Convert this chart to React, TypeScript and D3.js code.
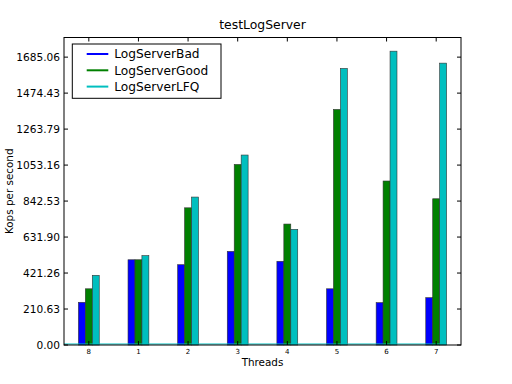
import React from "react";
import { scaleLinear } from "d3";

const threads = ["8", "1", "2", "3", "4", "5", "6", "7"];
const logServerBad = [250, 499, 470, 548, 490, 329, 248, 277];
const logServerGood = [329, 499, 803, 1057, 708, 1379, 960, 856];
const logServerLFQ = [408, 523, 866, 1112, 677, 1619, 1720, 1650];
const yTickLabels = ["0.00", "210.63", "421.26", "631.90", "842.53", "1053.16", "1263.79", "1474.43", "1685.06"];

const seriesNames = ["LogServerBad", "LogServerGood", "LogServerLFQ"];
const seriesColors = ["#0000ff", "#008000", "#00bfbf"];

export default function App() {
    const width = 512;
    const height = 384;
    const left = 64;
    const right = 461;
    const top = 37.5;
    const bottom = 345;
    const font = "DejaVu Sans, sans-serif";

    const series = [logServerBad, logServerGood, logServerLFQ];
    const xScale = scaleLinear().domain([-0.5, threads.length - 0.5]).range([left, right]);
    const yScale = scaleLinear().domain([0, 1800]).range([bottom, top]);
    const barW = 0.14;
    const tickStep = 210.63;

    return (
        <svg width={width} height={height} style={{ position: "absolute", left: 0, top: 0, background: "#fff" }}>
            <rect x={0} y={0} width={width} height={height} fill="#fff" />
            {/* bars */}
            {series.map((vals, s) =>
                vals.map((v, i) => {
                    const x0 = xScale(i - 1.5 * barW + s * barW);
                    const x1 = xScale(i - 1.5 * barW + (s + 1) * barW);
                    return (
                        <rect
                            key={`${s}-${i}`}
                            x={x0}
                            y={yScale(v)}
                            width={x1 - x0}
                            height={yScale(0) - yScale(v)}
                            fill={seriesColors[s]}
                            stroke="#333"
                            strokeWidth={0.6}
                        />
                    );
                })
            )}
            {/* baseline line */}
            <line
                x1={left}
                x2={xScale(threads.length - 1 + 1.5 * barW)}
                y1={yScale(0) - 1}
                y2={yScale(0) - 1}
                stroke="#00bfbf"
                strokeWidth={1.2}
            />
            {/* frame */}
            <rect x={left} y={top} width={right - left} height={bottom - top} fill="none" stroke="#000" strokeWidth={1} />
            {/* y ticks */}
            {yTickLabels.map((t, i) => {
                const y = yScale(i * tickStep);
                return (
                    <g key={t}>
                        <line x1={left} x2={left + 4} y1={y} y2={y} stroke="#000" />
                        <line x1={right} x2={right - 4} y1={y} y2={y} stroke="#000" />
                        <text x={left - 4} y={y + 3.8} fontSize={10.6} fontFamily={font} textAnchor="end">
                            {t}
                        </text>
                    </g>
                );
            })}
            {/* x ticks */}
            {threads.map((t, i) => {
                const x = xScale(i);
                return (
                    <g key={t}>
                        <line x1={x} x2={x} y1={bottom} y2={bottom - 4} stroke="#000" />
                        <line x1={x} x2={x} y1={top} y2={top + 4} stroke="#000" />
                        <text x={x} y={bottom + 9} fontSize={7} fontFamily={font} textAnchor="middle">
                            {t}
                        </text>
                    </g>
                );
            })}
            {/* labels */}
            <text x={(left + right) / 2} y={29} fontSize={12.4} fontFamily={font} textAnchor="middle">
                testLogServer
            </text>
            <text x={(left + right) / 2} y={366} fontSize={10.4} fontFamily={font} textAnchor="middle">
                Threads
            </text>
            <text
                transform={`translate(12.5,${(top + bottom) / 2}) rotate(-90)`}
                fontSize={10.4}
                fontFamily={font}
                textAnchor="middle"
            >
                Kops per second
            </text>
            {/* legend */}
            <rect x={72.3} y={44} width={148.7} height={54.3} fill="#fff" stroke="#000" strokeWidth={1} />
            {seriesNames.map((n, i) => {
                const y = 54 + i * 16.3;
                return (
                    <g key={n}>
                        <line x1={86.7} x2={108.3} y1={y} y2={y} stroke={seriesColors[i]} strokeWidth={2} />
                        <text x={114.3} y={y + 4.4} fontSize={12.2} fontFamily={font}>
                            {n}
                        </text>
                    </g>
                );
            })}
        </svg>
    );
}
